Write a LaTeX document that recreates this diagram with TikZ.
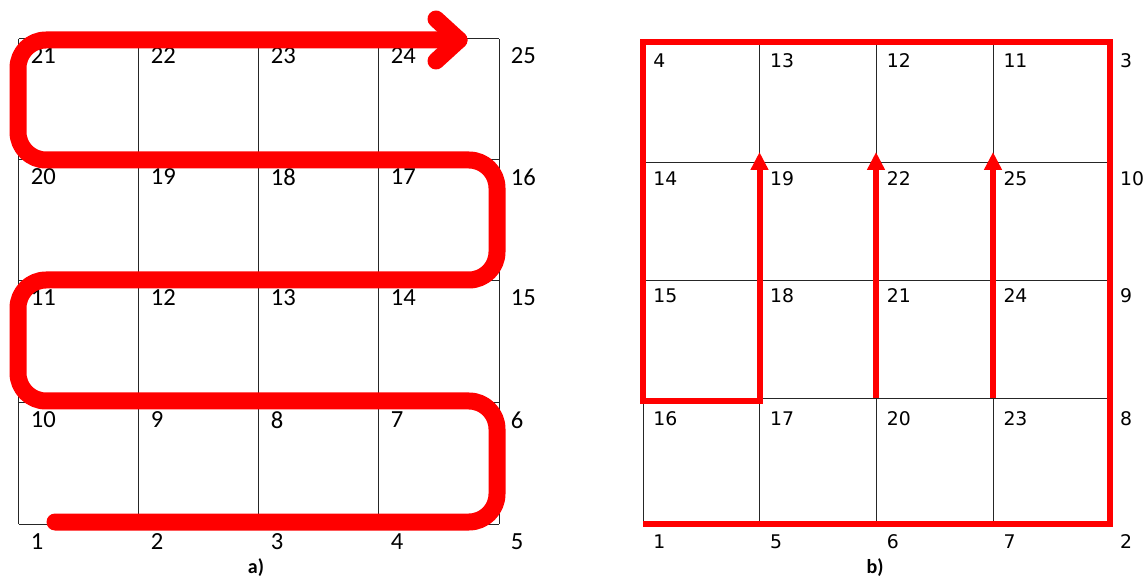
\documentclass[tikz,border=0pt]{standalone}
\usepackage{fontspec}
\setmainfont{Carlito}
\newfontfamily\gridfont{DejaVu Sans}
\usetikzlibrary{arrows.meta}

\begin{document}
\begin{tikzpicture}[x=0.5pt,y=-0.5pt,
    cell/.style={draw=black!85,line width=0.5pt},
    lnum/.style={anchor=north west,inner sep=0pt,font=\fontsize{12.3}{14}\selectfont},
    rnum/.style={anchor=north west,inner sep=0pt,font=\gridfont\fontsize{9.4}{11}\selectfont},
    snake/.style={red,line width=8.5pt,line cap=round,line join=round},
    redbox/.style={red,line width=3pt},
    uparrow/.style={red,line width=3pt,-{Triangle[length=9pt,width=8.5pt]}},
    caption/.style={anchor=base,font=\bfseries\fontsize{10}{12}\selectfont}]
\useasboundingbox (0,0) rectangle (1147,577);

% left grid, a)
\foreach \x in {18.7,138.5,258.5,378.5,499} \draw[cell] (\x,39) -- (\x,524);
\foreach \y in {39,160,281,403,524} \draw[cell] (18.7,\y) -- (499,\y);
\foreach \y/\row in {47.5/{21,22,23,24,25},168.5/{20,19,18,17,16},
    289.5/{11,12,13,14,15},411.5/{10,9,8,7,6},533/{1,2,3,4,5}}
  \foreach \t [count=\i from 0] in \row
    \node[lnum] (a\t) at (30.5+120*\i,\y) {\t};

% the snake path with its open arrow head
\draw[snake,rounded corners=14pt] (55,522) -- (497,522) -- (497,401) -- (18,401)
  -- (18,280) -- (497,280) -- (497,160) -- (18,160) -- (18,40) -- (459,40);
\draw[snake] (436,19) -- (459,40) -- (436,61);

% right grid, b)
\foreach \x in {643,759.5,876,993,1109.5} \draw[cell] (\x,42.5) -- (\x,524);
\foreach \y in {42.5,163,281,398.5,524} \draw[cell] (643,\y) -- (1109.5,\y);
\foreach \y/\row in {53/{4,13,12,11,3},171.5/{14,19,22,25,10},
    288/{15,18,21,24,9},411.5/{16,17,20,23,8},534.5/{1,5,6,7,2}}
  \foreach \t [count=\i from 0] in \row
    \node[rnum] (b\t) at (653+116.7*\i,\y) {\t};

% red frame, ends in the first arrow
\draw[redbox,-{Triangle[length=9pt,width=8.5pt]}] (643,524) -- (1109.5,524)
  -- (1109.5,42.5) -- (643,42.5) -- (643,401) -- (759.5,401) -- (759.5,152);
\draw[uparrow] (876,398) -- (876,152);
\draw[uparrow] (993,398) -- (993,152);

% captions
\node[caption] (capa) at (256,574) {a)};
\node[caption] (capb) at (875,574) {b)};
\end{tikzpicture}
\end{document}
